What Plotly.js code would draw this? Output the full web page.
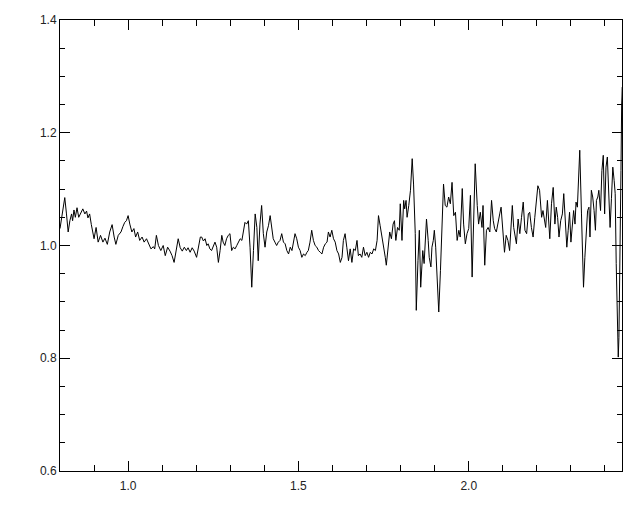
<!DOCTYPE html>
<html>
<head>
<meta charset="utf-8">
<script src="https://cdn.plot.ly/plotly-3.0.1.min.js"></script>
<style>html,body{margin:0;padding:0;background:#fff;}#chart{width:640px;height:512px;}</style>
</head>
<body>
<div id="chart"></div>
<script>
// Spectrum segments (wavelength, flux)
const wavA = [0.800,0.804,0.809,0.814,0.819,0.824,0.829,0.834,0.837,0.841,0.845,0.850,0.855,0.861,0.867,0.873,0.878,0.882,0.887,0.892,0.900,0.906,0.912,0.919,0.926,0.932,0.939,0.946,0.953,0.959,0.964,0.971,0.979,0.985,0.990,0.995,1.000,1.005,1.011,1.017,1.022,1.028,1.034,1.041,1.047,1.054,1.061,1.067,1.074,1.078,1.083,1.089,1.096,1.103,1.109,1.116,1.123,1.129,1.135,1.141,1.147,1.153,1.159,1.165,1.171,1.176,1.182,1.188,1.194,1.201,1.206,1.212];
const fluxA = [1.030,1.047,1.062,1.085,1.056,1.024,1.044,1.056,1.044,1.063,1.050,1.067,1.050,1.059,1.065,1.056,1.061,1.049,1.056,1.037,1.012,1.032,1.006,1.018,1.006,1.013,1.002,1.024,1.037,1.015,1.002,1.018,1.024,1.034,1.041,1.044,1.053,1.038,1.024,1.030,1.015,1.024,1.009,1.015,1.006,1.012,1.003,0.994,0.998,0.994,1.018,1.000,0.991,1.000,0.982,0.997,0.990,0.982,0.970,0.988,1.012,0.996,0.990,0.997,0.991,0.996,0.988,0.996,0.990,0.979,0.994,1.015];

const wavB = [1.216,1.221,1.226,1.231,1.235,1.240,1.245,1.250,1.255,1.260,1.265,1.270,1.275,1.279,1.284,1.289,1.294,1.299,1.304,1.309,1.314,1.319,1.324,1.329,1.334,1.338,1.343,1.348,1.353,1.358,1.363,1.368,1.373,1.378,1.382,1.387,1.392,1.397,1.402,1.407,1.412,1.417,1.422,1.426,1.431,1.436,1.441,1.446,1.451,1.456,1.461,1.466,1.471,1.476,1.481,1.485,1.490,1.495,1.500,1.505,1.510,1.515,1.520,1.525,1.529,1.534,1.539,1.544,1.549,1.554,1.559,1.564,1.569,1.574,1.579,1.584,1.588,1.593,1.598,1.603,1.608,1.613,1.618,1.623,1.628,1.632,1.637,1.642,1.647,1.652];
const fluxB = [1.015,1.008,1.012,1.000,1.003,0.994,0.991,1.000,1.006,0.997,0.970,0.991,1.018,1.006,1.000,1.012,1.018,1.021,0.991,0.997,0.994,1.000,1.006,1.012,1.009,1.027,1.041,1.038,1.044,0.997,0.926,0.991,1.056,1.032,0.973,1.038,1.071,1.021,0.997,1.024,1.035,1.053,1.027,1.012,1.006,1.000,1.006,1.009,1.021,1.006,1.003,0.991,0.985,0.997,0.991,1.003,1.021,1.012,0.997,0.991,0.979,0.985,0.982,0.988,0.991,1.006,1.027,1.009,1.000,0.997,0.991,0.988,0.985,0.997,1.003,1.006,1.024,1.015,1.027,1.012,1.006,0.991,0.985,0.970,0.979,1.009,1.021,0.997,0.973,0.994];

const wavC = [1.657,1.662,1.667,1.672,1.676,1.681,1.686,1.691,1.696,1.701,1.706,1.711,1.716,1.721,1.726,1.731,1.735,1.740,1.745,1.750,1.755,1.758,1.763,1.768,1.773,1.778,1.782,1.786,1.791,1.796,1.799,1.804,1.809,1.812,1.816,1.819,1.824,1.829,1.834,1.838,1.843,1.846,1.851,1.855,1.859,1.865,1.869,1.873,1.876,1.881,1.884,1.889,1.892,1.896,1.899,1.903,1.908,1.912,1.917,1.922,1.926];
const fluxC = [0.970,0.994,0.991,1.009,0.982,0.985,0.979,0.997,0.982,0.988,0.979,0.988,0.985,0.994,0.991,1.009,1.053,1.035,1.018,1.000,0.979,0.965,1.000,1.024,1.012,1.038,1.044,1.009,1.032,1.027,1.074,1.009,1.080,1.065,1.080,1.050,1.071,1.098,1.154,1.109,1.021,0.885,0.973,1.027,0.926,0.991,0.968,1.003,1.047,1.009,0.979,0.962,0.997,1.009,1.027,0.997,0.944,0.882,0.956,1.032,1.109];

const wavD = [1.931,1.936,1.941,1.946,1.951,1.956,1.961,1.966,1.971,1.975,1.981,1.985,1.990,1.995,2.000,2.005,2.010,2.015,2.019,2.025,2.029,2.034,2.039,2.042,2.047,2.052,2.057,2.062,2.067,2.072,2.076,2.081,2.086,2.091,2.095,2.100,2.105,2.110,2.115,2.120,2.125,2.128,2.132,2.137,2.140,2.145,2.150,2.155,2.160,2.165,2.170,2.175,2.179,2.184,2.189,2.194,2.199,2.203,2.208];
const fluxD = [1.071,1.068,1.086,1.074,1.112,1.053,1.059,1.009,1.027,1.015,1.101,1.038,1.003,1.021,1.030,1.089,0.944,1.050,1.145,1.071,1.038,1.059,1.032,1.071,0.965,1.027,1.032,1.024,1.080,1.044,1.030,1.024,1.044,1.056,1.068,1.030,0.988,1.018,1.009,0.991,1.038,1.071,1.032,1.009,1.003,1.047,1.021,1.050,1.077,1.027,1.021,1.056,1.059,1.032,1.015,1.050,1.083,1.106,1.098];

const wavE = [2.214,2.218,2.222,2.226,2.231,2.235,2.238,2.243,2.248,2.253,2.257,2.261,2.265,2.270,2.275,2.279,2.284,2.288,2.292,2.296,2.300,2.304,2.308,2.312,2.315,2.319,2.323,2.326,2.331,2.334,2.337,2.341,2.345,2.349,2.353,2.356,2.360,2.364,2.368,2.372,2.375,2.379,2.382,2.387,2.391,2.395,2.399,2.403,2.407,2.411,2.415,2.419,2.423,2.427,2.430,2.433,2.436,2.439,2.441,2.444,2.447,2.449,2.451,2.453];
const fluxE = [1.050,1.062,1.050,1.032,1.080,1.027,1.012,1.074,1.103,1.038,1.068,1.050,1.015,1.044,1.056,1.092,1.032,0.997,1.027,1.059,1.006,1.041,1.062,1.038,1.077,1.068,1.115,1.169,1.056,0.979,0.926,0.979,1.032,1.062,1.068,1.015,1.098,1.086,1.062,1.027,1.080,1.086,1.098,1.062,1.133,1.160,1.056,1.139,1.157,1.103,1.032,1.083,1.139,1.115,1.092,0.968,0.897,0.802,0.837,0.956,1.133,1.251,1.281,1.210];

const xTickVals = [1.0, 1.5, 2.0];
const xTickText = ['1.0', '1.5', '2.0'];
const yTickVals = [0.6, 0.8, 1.0, 1.2, 1.4];
const yTickText = ['0.6', '0.8', '1.0', '1.2', '1.4'];

const wav = [].concat(wavA, wavB, wavC, wavD, wavE);
const flux = [].concat(fluxA, fluxB, fluxC, fluxD, fluxE);

const tickFont = {family: 'Liberation Sans, DejaVu Sans, sans-serif', size: 12, color: '#222'};

const trace = {
  x: wav, y: flux, type: 'scatter', mode: 'lines',
  line: {color: '#000', width: 1}, hoverinfo: 'skip', cliponaxis: true
};

const layout = {
  width: 640, height: 512,
  margin: {l: 60, r: 18, t: 20, b: 41, pad: 0},
  paper_bgcolor: '#fff', plot_bgcolor: '#fff',
  showlegend: false,
  xaxis: {
    range: [0.8, 2.45], tickmode: 'array', tickvals: xTickVals, ticktext: xTickText,
    ticks: 'inside', ticklen: 10, tickwidth: 1, tickcolor: '#000',
    showline: true, linecolor: '#000', linewidth: 1, mirror: 'allticks',
    showgrid: false, zeroline: false, tickfont: tickFont, ticklabelstandoff: 4,
    minor: {dtick: 0.1, tick0: 0.8, ticks: 'inside', ticklen: 6, tickwidth: 1, tickcolor: '#000', showgrid: false}
  },
  yaxis: {
    range: [0.6, 1.4], tickmode: 'array', tickvals: yTickVals, ticktext: yTickText,
    ticks: 'inside', ticklen: 10, tickwidth: 1, tickcolor: '#000',
    showline: true, linecolor: '#000', linewidth: 1, mirror: 'allticks',
    showgrid: false, zeroline: false, tickfont: tickFont,
    minor: {dtick: 0.05, tick0: 0.6, ticks: 'inside', ticklen: 5, tickwidth: 1, tickcolor: '#000', showgrid: false}
  }
};

Plotly.newPlot('chart', [trace], layout, {displayModeBar: false, staticPlot: true});
</script>
</body>
</html>
